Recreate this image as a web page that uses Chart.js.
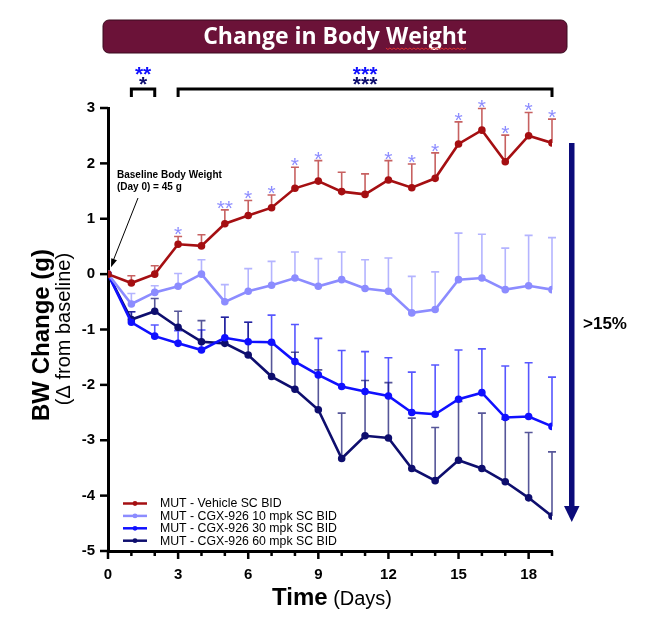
<!DOCTYPE html>
<html lang="en">
<head>
    <meta charset="UTF-8">
    <title>Change in Body Weight</title>
    <script src="https://cdn.jsdelivr.net/npm/chart.js"></script>
    <style>
        body { margin: 0; background: #fff; }
        canvas { display: block; }
    </style>
</head>
<body>
    <canvas id="bwChart" width="650" height="627"></canvas>

    <script>
        // Days on study
        const days = [0, 1, 2, 3, 4, 5, 6, 7, 8, 9, 10, 11, 12, 13, 14, 15, 16, 17, 18, 19];

        // Mean BW change (g) per group
        const vehicle = [0, -0.16, 0.00, 0.54, 0.51, 0.91, 1.06, 1.20, 1.55, 1.68, 1.49, 1.44, 1.70, 1.56, 1.73, 2.35, 2.60, 2.03, 2.50, 2.37];
        const mpk10   = [0, -0.54, -0.33, -0.22, 0.00, -0.50, -0.31, -0.20, -0.07, -0.22, -0.10, -0.26, -0.31, -0.70, -0.64, -0.10, -0.07, -0.28, -0.21, -0.28];
        const mpk30   = [0, -0.87, -1.12, -1.25, -1.37, -1.15, -1.22, -1.23, -1.58, -1.82, -2.03, -2.12, -2.20, -2.50, -2.53, -2.26, -2.14, -2.59, -2.57, -2.75];
        const mpk60   = [0, -0.82, -0.67, -0.96, -1.22, -1.25, -1.46, -1.85, -2.08, -2.45, -3.33, -2.92, -2.96, -3.51, -3.73, -3.36, -3.51, -3.75, -4.04, -4.37];

        // SEM (upper bars only)
        const vehicleErr = [0, 0.13, 0.15, 0.14, 0.20, 0.25, 0.27, 0.23, 0.38, 0.37, 0.35, 0.37, 0.35, 0.43, 0.46, 0.40, 0.39, 0.48, 0.42, 0.43];
        const mpk10Err   = [0, 0.19, 0.12, 0.23, 0.26, 0.31, 0.41, 0.43, 0.47, 0.50, 0.50, 0.52, 0.60, 0.66, 0.68, 0.84, 0.79, 0.75, 0.91, 0.94];
        const mpk30Err   = [0, 0.19, 0.20, 0.23, 0.36, 0.37, 0.35, 0.49, 0.67, 0.66, 0.65, 0.72, 0.69, 0.73, 0.89, 0.89, 0.79, 0.93, 0.97, 0.89];
        const mpk60Err   = [0, 0.14, 0.23, 0.29, 0.38, 0.47, 0.59, 0.60, 0.67, 0.72, 0.82, 1.00, 1.00, 0.91, 0.96, 1.06, 1.00, 1.13, 1.18, 1.16];

        // significance of vehicle vs 10 mpk, per day
        const vehicleSig = ['', '', '', '*', '', '**', '*', '*', '*', '*', '', '', '*', '*', '*', '*', '*', '*', '*', '*'];

        // brackets at the top (30 mpk / 60 mpk vs vehicle)
        const bracketFrom = [1, 3];
        const bracketTo   = [2, 19];
        const sig30       = ['**', '***'];
        const sig60       = ['*', '***'];

        const groupLabels = ['MUT - Vehicle SC BID', 'MUT - CGX-926 10 mpk SC BID', 'MUT - CGX-926 30 mpk SC BID', 'MUT - CGX-926 60 mpk SC BID'];
        const groupColors = ['#A50F12', '#8C8CFF', '#1010FF', '#0E0E6E'];
        const errColors   = ['rgba(175,30,30,0.7)', 'rgba(140,140,255,0.65)', 'rgba(16,16,255,0.7)', 'rgba(14,14,110,0.7)'];
        const groupErrs   = [vehicleErr, mpk10Err, mpk30Err, mpk60Err];

        const yTicks = [-5, -4, -3, -2, -1, 0, 1, 2, 3];

        const ARIAL = 'Arial, "Liberation Sans", sans-serif';

        function points(vals) {
            return days.map((d, i) => ({ x: d, y: vals[i] }));
        }

        const overlay = {
            id: 'overlay',
            beforeDatasetsDraw(chart) {
                const { ctx, scales: { x, y } } = chart;
                chart.data.datasets.forEach((ds, i) => {
                    const err = groupErrs[i];
                    ctx.save();
                    ctx.strokeStyle = errColors[i];
                    ctx.lineWidth = 1.6;
                    ds.data.forEach((p, j) => {
                        if (!err[j]) return;
                        const px = x.getPixelForValue(p.x);
                        const y0 = y.getPixelForValue(p.y);
                        const y1 = y.getPixelForValue(p.y + err[j]);
                        ctx.beginPath();
                        ctx.moveTo(px, y0);
                        ctx.lineTo(px, y1);
                        ctx.moveTo(px - 4, y1);
                        ctx.lineTo(px + 4, y1);
                        ctx.stroke();
                    });
                    ctx.restore();
                });
            },
            afterDraw(chart) {
                const { ctx, chartArea: area, scales: { x, y } } = chart;
                ctx.save();

                // tick marks
                ctx.strokeStyle = '#000';
                ctx.lineWidth = 2.5;
                days.forEach(d => {
                    const px = x.getPixelForValue(d);
                    ctx.beginPath();
                    ctx.moveTo(px, area.bottom);
                    ctx.lineTo(px, area.bottom + (d % 3 === 0 ? 8 : 5));
                    ctx.stroke();
                });
                yTicks.forEach(v => {
                    const py = y.getPixelForValue(v);
                    ctx.beginPath();
                    ctx.moveTo(area.left, py);
                    ctx.lineTo(area.left - 8, py);
                    ctx.stroke();
                });

                // title banner
                ctx.fillStyle = '#6B1238';
                ctx.strokeStyle = '#3a0a1e';
                ctx.lineWidth = 1;
                ctx.beginPath();
                ctx.roundRect(103, 20, 464, 33, 6);
                ctx.fill();
                ctx.stroke();
                ctx.fillStyle = '#fff';
                ctx.font = 'bold 23px "Open Sans", sans-serif';
                ctx.textAlign = 'center';
                ctx.textBaseline = 'middle';
                const title = 'Change in Body Weight';
                ctx.fillText(title, 335, 37);
                // spell-check squiggle under "Weight"
                const tw = ctx.measureText(title).width;
                const ww = ctx.measureText('Weight').width;
                const sx = 335 + tw / 2 - ww;
                ctx.strokeStyle = '#e03030';
                ctx.lineWidth = 1;
                ctx.beginPath();
                for (let k = 0; k <= ww; k += 2) {
                    const yy = 48 + ((k / 2) % 2 === 0 ? 0 : 1.5);
                    if (k === 0) ctx.moveTo(sx + k, yy); else ctx.lineTo(sx + k, yy);
                }
                ctx.stroke();

                // significance brackets on top
                ctx.strokeStyle = '#000';
                ctx.lineWidth = 3;
                bracketFrom.forEach((from, i) => {
                    const x0 = x.getPixelForValue(from);
                    const x1 = x.getPixelForValue(bracketTo[i]);
                    ctx.beginPath();
                    ctx.moveTo(x0, 97);
                    ctx.lineTo(x0, 89);
                    ctx.lineTo(x1, 89);
                    ctx.lineTo(x1, 97);
                    ctx.stroke();
                    const cx = (x0 + x1) / 2;
                    ctx.font = 'bold 21px ' + ARIAL;
                    ctx.textAlign = 'center';
                    ctx.textBaseline = 'alphabetic';
                    ctx.fillStyle = groupColors[2];
                    ctx.fillText(sig30[i], cx, 81);
                    ctx.fillStyle = groupColors[3];
                    ctx.fillText(sig60[i], cx, 91);
                });

                // stars above vehicle error bars
                ctx.font = '21px ' + ARIAL;
                ctx.fillStyle = '#8C8CFF';
                ctx.textAlign = 'center';
                vehicleSig.forEach((s, j) => {
                    if (!s) return;
                    const px = x.getPixelForValue(days[j]);
                    const py = y.getPixelForValue(vehicle[j] + vehicleErr[j]);
                    ctx.fillText(s, px, py + 5);
                });

                // baseline annotation
                ctx.fillStyle = '#000';
                ctx.textAlign = 'left';
                ctx.textBaseline = 'middle';
                ctx.font = 'bold 10px "Liberation Sans Narrow", ' + ARIAL;
                ctx.fillText('Baseline Body Weight', 117, 175);
                ctx.fillText('(Day 0) = 45 g', 117, 187);
                const tipX = x.getPixelForValue(0) + 3, tipY = y.getPixelForValue(0) - 7;
                ctx.strokeStyle = '#000';
                ctx.lineWidth = 1;
                ctx.beginPath();
                ctx.moveTo(138, 198);
                ctx.lineTo(tipX + 2, tipY - 6);
                ctx.stroke();
                const ang = Math.atan2(tipY - 198, tipX - 138);
                ctx.beginPath();
                ctx.moveTo(tipX, tipY);
                ctx.lineTo(tipX - 9 * Math.cos(ang - 0.35), tipY - 9 * Math.sin(ang - 0.35));
                ctx.lineTo(tipX - 9 * Math.cos(ang + 0.35), tipY - 9 * Math.sin(ang + 0.35));
                ctx.closePath();
                ctx.fill();

                // >15% arrow
                ctx.fillStyle = '#0B0B7A';
                ctx.fillRect(569, 143, 5.5, 366);
                ctx.beginPath();
                ctx.moveTo(564, 506);
                ctx.lineTo(579.5, 506);
                ctx.lineTo(571.75, 522);
                ctx.closePath();
                ctx.fill();
                ctx.fillStyle = '#000';
                ctx.font = 'bold 17px ' + ARIAL;
                ctx.textAlign = 'left';
                ctx.fillText('>15%', 583, 324);

                // legend
                ctx.font = '12.3px ' + ARIAL;
                chart.data.datasets.forEach((ds, i) => {
                    const ly = 503.5 + i * 12.4;
                    ctx.strokeStyle = ds.borderColor;
                    ctx.fillStyle = ds.borderColor;
                    ctx.lineWidth = 2.5;
                    ctx.beginPath();
                    ctx.moveTo(123, ly);
                    ctx.lineTo(147, ly);
                    ctx.stroke();
                    ctx.beginPath();
                    ctx.arc(135, ly, 2.4, 0, Math.PI * 2);
                    ctx.fill();
                    ctx.fillStyle = '#000';
                    ctx.fillText(ds.label, 160, ly + 0.5);
                });

                // axis titles
                ctx.fillStyle = '#000';
                ctx.textBaseline = 'alphabetic';
                ctx.font = 'bold 24px ' + ARIAL;
                const t1 = 'Time';
                const t1w = ctx.measureText(t1).width;
                ctx.font = '20px ' + ARIAL;
                const t2 = ' (Days)';
                const t2w = ctx.measureText(t2).width;
                const tx = 332 - (t1w + t2w) / 2;
                ctx.font = 'bold 24px ' + ARIAL;
                ctx.fillText(t1, tx, 605);
                ctx.font = '20px ' + ARIAL;
                ctx.fillText(t2, tx + t1w, 605);

                ctx.save();
                ctx.translate(49, 335);
                ctx.rotate(-Math.PI / 2);
                ctx.textAlign = 'center';
                ctx.font = 'bold 24px ' + ARIAL;
                ctx.fillText('BW Change (g)', 0, 0);
                ctx.restore();
                ctx.save();
                ctx.translate(70, 329);
                ctx.rotate(-Math.PI / 2);
                ctx.textAlign = 'center';
                ctx.font = '20px ' + ARIAL;
                ctx.fillText('(\u0394 from baseline)', 0, 0);
                ctx.restore();

                ctx.restore();
            }
        };

        const datasets = [vehicle, mpk10, mpk30, mpk60].map((vals, i) => ({
            label: groupLabels[i],
            data: points(vals),
            borderColor: groupColors[i],
            backgroundColor: groupColors[i],
            borderWidth: 2.6,
            pointRadius: 2.5,
            pointHoverRadius: 2.5,
            tension: 0
        }));

        const ctx = document.getElementById('bwChart').getContext('2d');
        new Chart(ctx, {
            type: 'line',
            data: { datasets: datasets },
            options: {
                responsive: false,
                animation: false,
                layout: { padding: { left: 0, right: 98, top: 108, bottom: 0 } },
                plugins: {
                    legend: { display: false },
                    tooltip: { enabled: false }
                },
                scales: {
                    x: {
                        type: 'linear',
                        min: 0,
                        max: 19,
                        afterFit: s => { s.height = 76; },
                        afterBuildTicks: s => { s.ticks = days.map(d => ({ value: d })); },
                        ticks: {
                            autoSkip: false,
                            maxRotation: 0,
                            padding: 15,
                            color: '#000',
                            font: { family: ARIAL, size: 15, weight: 'bold' },
                            callback: v => (v % 3 === 0 ? v : '')
                        },
                        grid: { display: false, drawTicks: false },
                        border: { display: true, color: '#000', width: 3 }
                    },
                    y: {
                        min: -5,
                        max: 3,
                        afterFit: s => { s.width = 108; },
                        afterBuildTicks: s => { s.ticks = yTicks.map(v => ({ value: v })); },
                        ticks: {
                            padding: 13,
                            color: '#000',
                            font: { family: ARIAL, size: 15, weight: 'bold' }
                        },
                        grid: { display: false, drawTicks: false },
                        border: { display: true, color: '#000', width: 3 }
                    }
                }
            },
            plugins: [overlay]
        });
    </script>
</body>
</html>
